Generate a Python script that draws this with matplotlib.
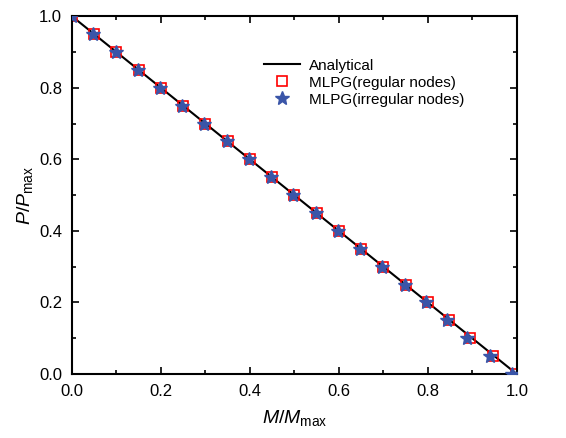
import matplotlib
matplotlib.use("Agg")
import matplotlib.pyplot as plt
import numpy as np
from matplotlib.ticker import MultipleLocator

plt.rcParams['font.family'] = ['Liberation Sans', 'DejaVu Sans']
plt.rcParams['mathtext.fontset'] = 'custom'
plt.rcParams['mathtext.rm'] = 'Liberation Sans'
plt.rcParams['mathtext.it'] = 'Liberation Sans:italic'

# analytical line
m_analytical = [0.0, 1.0]
p_analytical = [1.0, 0.0]

# MLPG results
p_nodes = [1.0, 0.95, 0.9, 0.85, 0.8, 0.75, 0.7, 0.65, 0.6, 0.55, 0.5,
           0.45, 0.4, 0.35, 0.3, 0.25, 0.2, 0.15, 0.1, 0.05, 0.0]
m_regular = [0.0, 0.05, 0.1, 0.15, 0.2, 0.25, 0.3, 0.35, 0.4, 0.45, 0.5,
             0.55, 0.6, 0.65, 0.7, 0.752, 0.8, 0.848, 0.895, 0.946, 0.998]
m_irregular = [0.0, 0.048, 0.1, 0.148, 0.198, 0.248, 0.298, 0.348, 0.398, 0.448, 0.498,
               0.548, 0.598, 0.648, 0.698, 0.748, 0.795, 0.843, 0.889, 0.939, 0.99]

fig = plt.figure(figsize=(5.66, 4.38), dpi=100)
ax = fig.add_axes([0.127, 0.146, 0.786, 0.817])

ax.plot(m_analytical, p_analytical, color='black', lw=1.5, label='Analytical', zorder=1)
ax.plot(m_regular, p_nodes, ls='none', marker='s', ms=6.5, mfc='none', mec='red',
        mew=1.2, label='MLPG(regular nodes)', zorder=2)
ax.plot(m_irregular, p_nodes, ls='none', marker='*', ms=10, color='#3a55a8',
        mec='#3a55a8', label='MLPG(irregular nodes)', zorder=3)

ax.set_xlim(0, 1)
ax.set_ylim(0, 1)
ax.xaxis.set_major_locator(MultipleLocator(0.2))
ax.yaxis.set_major_locator(MultipleLocator(0.2))
ax.xaxis.set_minor_locator(MultipleLocator(0.1))
ax.yaxis.set_minor_locator(MultipleLocator(0.1))
ax.tick_params(which='both', direction='in', top=True, right=True, labelsize=12, width=1.2)
ax.tick_params(which='major', length=5, pad=7)
ax.tick_params(which='minor', length=3)
for s in ax.spines.values():
    s.set_linewidth(1.5)

ax.set_xlabel(r'$M/M_{\mathrm{max}}$', fontsize=14, labelpad=7)
ax.set_ylabel(r'$P/P_{\mathrm{max}}$', fontsize=14, labelpad=3)

ax.legend(loc='upper left', bbox_to_anchor=(0.4, 0.92), frameon=False, fontsize=11,
          handlelength=2.4, labelspacing=0.2, handletextpad=0.6)

fig.savefig('out.png', dpi=100)
